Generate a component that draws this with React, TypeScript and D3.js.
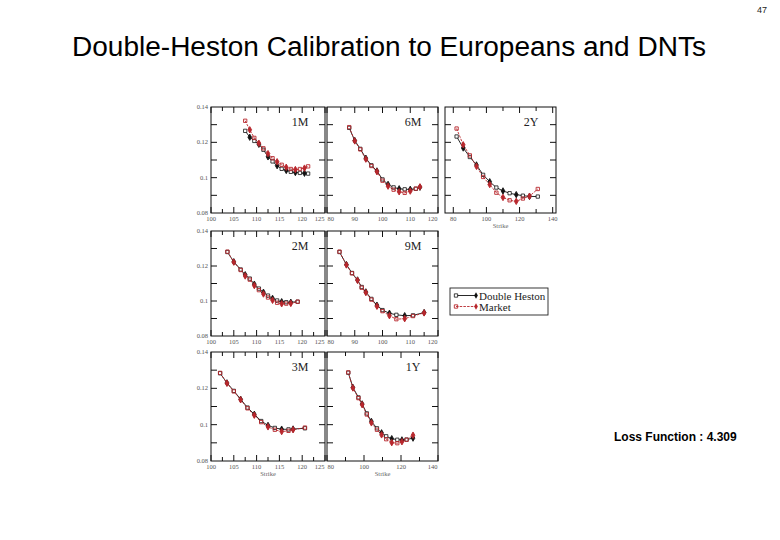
import React from 'react'
import * as d3 from 'd3'

// implied vol smiles (strike, market vol, double heston vol)
const strikes1M = [107.5, 108.5, 109.5, 110.5, 111.5, 112.5, 113.5, 114.5, 115.5, 116.5, 117.5, 118.5, 119.5, 120.5, 121.3]
const market1M = [0.1322, 0.1271, 0.1225, 0.1195, 0.1166, 0.1136, 0.111, 0.109, 0.1073, 0.1059, 0.1049, 0.1046, 0.1049, 0.1054, 0.1064]
const model1M = [0.1265, 0.1229, 0.1208, 0.1189, 0.1158, 0.1118, 0.1092, 0.1068, 0.105, 0.1041, 0.1033, 0.1029, 0.1027, 0.1025, 0.1023]

const strikes6M = [88, 90, 92, 94, 96, 98, 100, 102, 104, 106, 108, 110, 112, 113.5]
const market6M = [0.1286, 0.1208, 0.116, 0.1105, 0.1066, 0.1034, 0.0983, 0.0952, 0.0932, 0.092, 0.0914, 0.0924, 0.0938, 0.0948]
const model6M = [0.1282, 0.121, 0.1163, 0.111, 0.107, 0.1038, 0.099, 0.0962, 0.0945, 0.0937, 0.0934, 0.0934, 0.0937, 0.0946]

const strikes2Y = [82, 86, 90, 94, 98, 102, 106, 110, 114, 118, 122, 126, 131]
const market2Y = [0.1278, 0.1186, 0.1126, 0.1064, 0.1004, 0.0961, 0.0915, 0.0888, 0.0872, 0.0866, 0.0882, 0.0895, 0.0936]
const model2Y = [0.1233, 0.1168, 0.1117, 0.1072, 0.1016, 0.0977, 0.0944, 0.0925, 0.0912, 0.0904, 0.0898, 0.0894, 0.0893]

const strikes2M = [103.6, 105, 106.5, 107.5, 108.5, 109.5, 110.5, 111.5, 112.5, 113.5, 114.5, 115.5, 116.5, 117.5, 119]
const market2M = [0.1282, 0.1222, 0.1177, 0.1143, 0.1122, 0.1088, 0.1062, 0.104, 0.102, 0.1004, 0.099, 0.0984, 0.0985, 0.0986, 0.0996]
const model2M = [0.128, 0.1224, 0.118, 0.115, 0.1128, 0.1096, 0.1071, 0.105, 0.1031, 0.1015, 0.1003, 0.0996, 0.0993, 0.0993, 0.0996]

const strikes9M = [84.5, 87, 89, 91, 92.5, 94, 96, 98, 100, 102.5, 105, 108, 111, 115]
const market9M = [0.1282, 0.1206, 0.1158, 0.1118, 0.1076, 0.1048, 0.1008, 0.097, 0.0942, 0.0916, 0.0896, 0.0899, 0.0914, 0.0932]
const model9M = [0.128, 0.1208, 0.116, 0.112, 0.108, 0.1052, 0.1012, 0.0976, 0.0948, 0.093, 0.0921, 0.0916, 0.0918, 0.0934]

const strikes3M = [102, 103.5, 105, 106.5, 108, 109.5, 111, 112.5, 114, 115.5, 117, 118, 120.6]
const market3M = [0.1285, 0.1228, 0.1183, 0.1137, 0.109, 0.1052, 0.1014, 0.0988, 0.0972, 0.0962, 0.0966, 0.0972, 0.0984]
const model3M = [0.1283, 0.123, 0.1186, 0.114, 0.1094, 0.1057, 0.102, 0.0996, 0.0982, 0.0975, 0.0974, 0.0976, 0.098]

const strikes1Y = [91.5, 94, 97, 99, 101.5, 104, 107, 109.5, 112, 115, 118, 120.5, 123, 126.5]
const market1Y = [0.1288, 0.1202, 0.1146, 0.111, 0.1056, 0.101, 0.0972, 0.0944, 0.092, 0.0901, 0.0898, 0.0906, 0.0917, 0.0942]
const model1Y = [0.1286, 0.1205, 0.115, 0.1114, 0.1062, 0.1018, 0.098, 0.0955, 0.0936, 0.0923, 0.0917, 0.0916, 0.0918, 0.0926]

const volTicks = [0.08, 0.09, 0.1, 0.11, 0.12, 0.13, 0.14]
const volLabels = ['0.08', '0.1', '0.12', '0.14']

const RED = '#b8272d'
const SERIF = '"Liberation Serif", "DejaVu Serif", serif'
const SANS = 'Arial, "Liberation Sans", Helvetica, sans-serif'

// page geometry of the 3x3 grid
const colX: [number, number][] = [[211, 325], [327, 438], [445, 556]]
const rowY: [number, number][] = [[107, 213], [231, 336], [352, 461]]

type Panel = {
  label: string
  strikes: number[]
  market: number[]
  model: number[]
  col: number
  row: number
  domain: [number, number]
  labelStep: number
  tickStep: number
  strikeTitle?: boolean
}

const panels: Panel[] = [
  { label: '1M', strikes: strikes1M, market: market1M, model: model1M, col: 0, row: 0, domain: [100, 125], labelStep: 5, tickStep: 2.5 },
  { label: '6M', strikes: strikes6M, market: market6M, model: model6M, col: 1, row: 0, domain: [80, 120], labelStep: 10, tickStep: 5 },
  { label: '2Y', strikes: strikes2Y, market: market2Y, model: model2Y, col: 2, row: 0, domain: [75, 142], labelStep: 20, tickStep: 10, strikeTitle: true },
  { label: '2M', strikes: strikes2M, market: market2M, model: model2M, col: 0, row: 1, domain: [100, 125], labelStep: 5, tickStep: 2.5 },
  { label: '9M', strikes: strikes9M, market: market9M, model: model9M, col: 1, row: 1, domain: [80, 120], labelStep: 10, tickStep: 5 },
  { label: '3M', strikes: strikes3M, market: market3M, model: model3M, col: 0, row: 2, domain: [100, 125], labelStep: 5, tickStep: 2.5, strikeTitle: true },
  { label: '1Y', strikes: strikes1Y, market: market1Y, model: model1Y, col: 1, row: 2, domain: [80, 140], labelStep: 20, tickStep: 10, strikeTitle: true },
]

const squareSym = d3.symbol().type(d3.symbolSquare).size(11)
const diamondSym = d3.symbol().type(d3.symbolDiamond).size(12)

function SmilePanel({ p }: { p: Panel }) {
  const [x0, x1] = colX[p.col]
  const [y0, y1] = rowY[p.row]
  const x = d3.scaleLinear().domain(p.domain).range([x0, x1])
  const y = d3.scaleLinear().domain([0.08, 0.14]).range([y1, y0])

  const line = d3.line<number>()
    .x((_, i) => x(p.strikes[i]))
  const marketPath = line.y((v) => y(v))(p.market) || ''
  const modelPath = line.y((v) => y(v))(p.model) || ''

  const firstTick = Math.ceil(p.domain[0] / p.tickStep) * p.tickStep
  const xTicks = d3.range(firstTick, p.domain[1] + 0.001, p.tickStep)
  const isLabel = (t: number) => Math.abs(t / p.labelStep - Math.round(t / p.labelStep)) < 1e-6
  const labelTicks = xTicks.filter(isLabel)

  return (
    <g>
      <rect x={x0} y={y0} width={x1 - x0} height={y1 - y0} fill="none" stroke="#111" strokeWidth={1} />
      {xTicks.map((t, i) => {
        const len = isLabel(t) ? 6 : 4
        return (
          <g key={`xt-${i}`} stroke="#111" strokeWidth={1}>
            <line x1={x(t)} x2={x(t)} y1={y1} y2={y1 - len} />
            <line x1={x(t)} x2={x(t)} y1={y0} y2={y0 + len} />
          </g>
        )
      })}
      {labelTicks.map((t, i) => {
        // labels at the panel edges butt against the neighbour's, as on the slide
        const atLeft = Math.abs(x(t) - x0) < 1
        const atRight = Math.abs(x(t) - x1) < 1
        const anchor = atRight && p.col < 2 ? 'end' : atLeft && p.col > 0 ? 'start' : 'middle'
        const tx = anchor === 'end' ? x(t) - 0.5 : anchor === 'start' ? x(t) + 0.5 : x(t)
        return (
          <text key={`xl-${i}`} x={tx} y={y1 + 8} textAnchor={anchor} fontSize={6.5} fill="#555" fontFamily={SERIF}>
            {t}
          </text>
        )
      })}
      {volTicks.slice(1, -1).map((v, i) => (
        <g key={`yt-${i}`} stroke="#111" strokeWidth={1}>
          <line x1={x0} x2={x0 + 6} y1={y(v)} y2={y(v)} />
          <line x1={x1} x2={x1 - 6} y1={y(v)} y2={y(v)} />
        </g>
      ))}
      {p.col === 0 && volLabels.map((s) => (
        <text key={`yl-${s}`} x={x0 - 3} y={y(+s) + 2} textAnchor="end" fontSize={6.5} fill="#555" fontFamily={SERIF}>
          {s}
        </text>
      ))}
      {p.strikeTitle && (
        <text x={(x0 + x1) / 2} y={y1 + 14.5} textAnchor="middle" fontSize={6.5} fill="#666" fontFamily={SERIF}>
          Strike
        </text>
      )}
      <text x={x1 - 25} y={y0 + 19} textAnchor="middle" fontSize={12} fill="#222" fontFamily={SERIF}>
        {p.label}
      </text>

      <path d={modelPath} fill="none" stroke="#111" strokeWidth={0.9} />
      <path d={marketPath} fill="none" stroke={RED} strokeWidth={0.9} strokeDasharray="2.5,1.2" />

      {p.model.map((v, i) => (
        <path
          key={`mo-${i}`}
          d={(i % 2 === 0 ? squareSym : diamondSym)() || ''}
          transform={`translate(${x(p.strikes[i])},${y(v)})`}
          fill={i % 2 === 0 ? 'white' : '#111'}
          stroke="#111"
          strokeWidth={0.8}
        />
      ))}
      {p.market.map((v, i) => (
        <path
          key={`mk-${i}`}
          d={(i % 2 === 0 ? squareSym : diamondSym)() || ''}
          transform={`translate(${x(p.strikes[i])},${y(v)})`}
          fill={i % 2 === 0 ? 'none' : RED}
          stroke={RED}
          strokeWidth={0.9}
        />
      ))}
    </g>
  )
}

export default function App() {
  return (
    <div style={{ position: 'absolute', left: 0, top: 0 }}>
      <svg width={780} height={540} viewBox="0 0 780 540" style={{ display: 'block', background: 'white' }}>
        <text x={767} y={13} textAnchor="end" fontSize={9} fill="#222" fontFamily={SANS}>47</text>
        <text x={72} y={56} fontSize={27} textLength={634} lengthAdjust="spacingAndGlyphs" fill="#000" fontFamily={SANS}>
          Double-Heston Calibration to Europeans and DNTs
        </text>

        {panels.map((p) => (
          <SmilePanel key={p.label} p={p} />
        ))}

        <g>
          <rect x={450} y={288} width={98} height={27} fill="white" stroke="#222" strokeWidth={0.9} />
          <line x1={456} x2={476} y1={295.5} y2={295.5} stroke="#111" strokeWidth={0.9} />
          <path d={squareSym() || ''} transform="translate(456,295.5)" fill="white" stroke="#111" strokeWidth={0.8} />
          <path d={diamondSym() || ''} transform="translate(476,295.5)" fill="#111" />
          <text x={479} y={299.5} fontSize={11} fill="#222" fontFamily={SERIF}>Double Heston</text>
          <line x1={456} x2={476} y1={306.5} y2={306.5} stroke={RED} strokeWidth={0.9} strokeDasharray="2.5,1.2" />
          <path d={squareSym() || ''} transform="translate(456,306.5)" fill="none" stroke={RED} strokeWidth={0.9} />
          <path d={diamondSym() || ''} transform="translate(476,306.5)" fill={RED} />
          <text x={479} y={310.5} fontSize={11} fill="#222" fontFamily={SERIF}>Market</text>
        </g>

        <text x={614} y={441} fontSize={12} fontWeight="bold" fill="#000" fontFamily={SANS}>
          Loss Function : 4.309
        </text>
      </svg>
    </div>
  )
}
